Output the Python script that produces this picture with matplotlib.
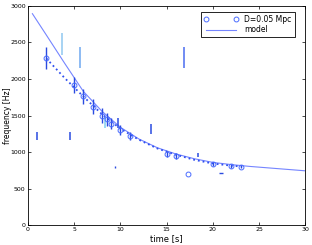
import numpy as np
import matplotlib
matplotlib.use("Agg")
import matplotlib.pyplot as plt

# measured points with error bars
t_pts = [2.0, 5.0, 6.0, 7.0, 8.0, 8.6, 9.0, 10.0, 11.0, 15.0, 16.0, 20.0, 22.0, 23.0]
f_pts = [2280, 1920, 1760, 1620, 1500, 1450, 1390, 1300, 1220, 980, 950, 840, 810, 800]
f_err = [150, 110, 100, 100, 100, 90, 80, 70, 60, 40, 40, 30, 20, 20]

# outlier point without bar
t_out = [17.3]
f_out = [700]

# stray vertical bars (t, low, high)
bar_t = [1.0, 4.6, 3.7, 5.6, 13.3, 16.9, 18.4, 8.3, 9.7]
bar_lo = [1170, 1170, 2330, 2150, 1250, 2150, 930, 1330, 1330]
bar_hi = [1270, 1270, 2630, 2430, 1380, 2440, 985, 1480, 1470]
bar_col = ['#2a4be0', '#2a4be0', '#8fc8f0', '#6fa8f0', '#2a4be0', '#4a6cf0', '#2a4be0', '#80d0f0', '#2a4be0']

# dotted fit through the data
t_fit = [2, 4, 6, 8, 10, 12, 14, 16, 18, 20, 22, 23]
f_fit = [2280, 2010, 1760, 1520, 1320, 1170, 1050, 965, 895, 845, 815, 805]

# model curve
t_mod = [0.5, 2, 4, 6, 8, 10, 12, 14, 16, 18, 20, 22, 24, 26, 28, 30]
f_mod = [2890, 2600, 2210, 1830, 1560, 1340, 1180, 1060, 975, 910, 860, 830, 805, 785, 765, 745]

fig = plt.figure(figsize=(3.12, 2.45), dpi=100)
ax = fig.add_axes([0.089, 0.080, 0.890, 0.897])

mod_line, = ax.plot(t_mod, f_mod, '-', color='#7585ff', lw=0.8, label='model', zorder=2)
ax.plot(t_fit, f_fit, ':', color='#3050f0', lw=1.3, zorder=2)
for t, lo, hi, c in zip(bar_t, bar_lo, bar_hi, bar_col):
    ax.vlines(t, lo, hi, color=c, lw=1.1, zorder=3)
ax.vlines(t_pts, np.array(f_pts) - np.array(f_err), np.array(f_pts) + np.array(f_err),
          color='#2a4be0', lw=1.0, zorder=3)
pts, = ax.plot(t_pts + t_out, f_pts + f_out, 'o', mfc='none', mec='#4a6cff', ms=3.5, mew=0.7,
               ls='none', label='D=0.05 Mpc', zorder=4)
# small stray marks
ax.plot([9.44], [800], '|', color='#2a4be0', ms=2)
ax.plot([20.9], [710], '_', color='#2a4be0', ms=3)

ax.set_xlim(0, 30)
ax.set_ylim(0, 3000)
ax.set_xticks(range(0, 31, 5))
ax.set_yticks(range(0, 3001, 500))
ax.tick_params(direction='in', length=2.5, width=0.5, labelsize=4.5, top=True, right=True, pad=1.5)
for s in ax.spines.values():
    s.set_linewidth(0.6)
ax.set_xlabel('time [s]', fontsize=6, labelpad=1)
ax.set_ylabel('frequency [Hz]', fontsize=5.5, labelpad=0)
ax.yaxis.set_label_coords(-0.058, 0.5)

leg = ax.legend([pts, mod_line], ['D=0.05 Mpc', 'model'], loc='upper right', fontsize=5.5,
                fancybox=False, framealpha=1, edgecolor='black', numpoints=2, handlelength=4.5,
                borderpad=0.4, labelspacing=0.2, bbox_to_anchor=(0.975, 0.99))
leg.get_frame().set_linewidth(0.6)

fig.savefig('out.png', dpi=100)
